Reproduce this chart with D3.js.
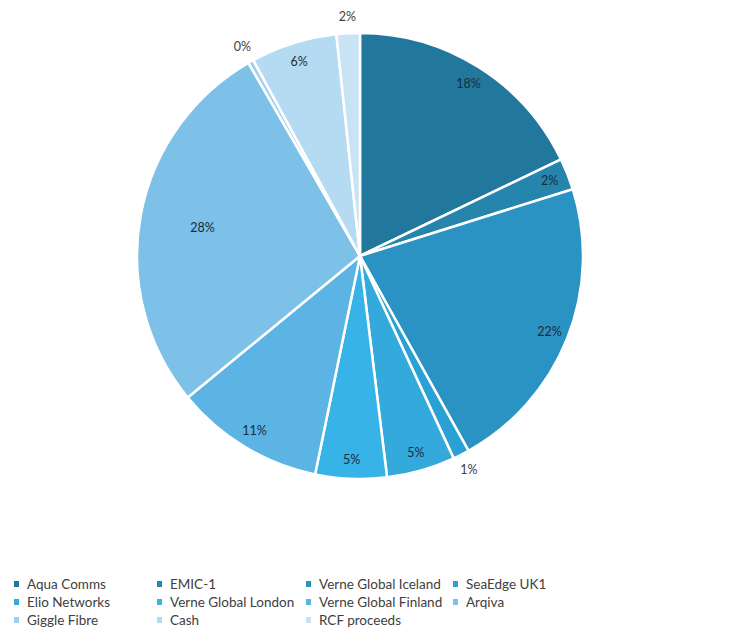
<!DOCTYPE html>
<html>
<head>
<meta charset="utf-8">
<script src="https://cdn.jsdelivr.net/npm/d3@7"></script>
<style>
  body { margin: 0; background: #fff; }
  text { font-family: Lato, "Open Sans", sans-serif; }
</style>
</head>
<body>
<div id="chart"></div>
<script>
// portfolio split (percent)
var categories = ["Aqua Comms", "EMIC-1", "Verne Global Iceland", "SeaEdge UK1",
  "Elio Networks", "Verne Global London", "Verne Global Finland", "Arqiva",
  "Giggle Fibre", "Cash", "RCF proceeds"];
var values = [18, 2.3, 21.9, 1.2, 5, 5.2, 10.9, 27.8, 0.4, 6.3, 1.7];
var labels = ["18%", "2%", "22%", "1%", "5%", "5%", "11%", "28%", "0%", "6%", "2%"];
var colors = ["#22789c", "#2585ad", "#2b93c3", "#2aa0d4", "#33a9dc", "#38b3e8",
  "#5bb4e4", "#7dc0e8", "#9fd0ef", "#b5dbf2", "#c8e3f4"];
var outside = ["SeaEdge UK1", "Giggle Fibre", "RCF proceeds"];

var width = 751, height = 644;
var cx = 360, cy = 256, radius = 223;

var svg = d3.select('#chart').append('svg')
  .attr('width', width)
  .attr('height', height);

var color = d3.scaleOrdinal().domain(categories).range(colors);

var pie = d3.pie().sort(null).value(function(d){ return d.value; });
var rows = categories.map(function(c, i){ return {name: c, value: values[i], label: labels[i]}; });
var arcs = pie(rows);

var arc = d3.arc().innerRadius(0).outerRadius(radius);
var g = svg.append('g').attr('transform', 'translate(' + cx + ',' + cy + ')');

g.selectAll('path.slice')
  .data(arcs)
  .enter()
  .append('path')
  .attr('class', 'slice')
  .attr('d', arc)
  .style('fill', function(d){ return color(d.data.name); })
  .style('stroke', '#fff')
  .style('stroke-width', '2.5px')
  .style('stroke-linejoin', 'round');

g.selectAll('text.pct')
  .data(arcs)
  .enter()
  .append('text')
  .attr('class', 'pct')
  .attr('text-anchor', 'middle')
  .attr('dy', '0.35em')
  .attr('transform', function(d){
    var isOut = outside.indexOf(d.data.name) >= 0;
    var r = isOut ? 240 : (d.data.name === 'Arqiva' ? 160 : 204);
    var a = (d.startAngle + d.endAngle) / 2;
    return 'translate(' + (r * Math.sin(a)) + ',' + (-r * Math.cos(a)) + ')';
  })
  .style('font-size', '12.5px')
  .style('fill', function(d){ return outside.indexOf(d.data.name) >= 0 ? '#404040' : '#1c2b3a'; })
  .text(function(d){ return d.data.label; });

// legend, four columns
var colX = [14, 157, 306, 453];
var rowY = [584, 602, 620];
var legend = svg.selectAll('.legend')
  .data(categories)
  .enter()
  .append('g')
  .attr('class', 'legend')
  .attr('transform', function(d, i){
    return 'translate(' + colX[i % 4] + ',' + rowY[Math.floor(i / 4)] + ')';
  });

legend.append('rect')
  .attr('x', 0)
  .attr('y', -3)
  .attr('width', 5)
  .attr('height', 6)
  .style('fill', function(d){ return color(d); });

legend.append('text')
  .attr('x', 13)
  .attr('dy', '0.35em')
  .style('font-size', '13.5px')
  .style('fill', '#404040')
  .text(function(d){ return d; });
</script>
</body>
</html>
